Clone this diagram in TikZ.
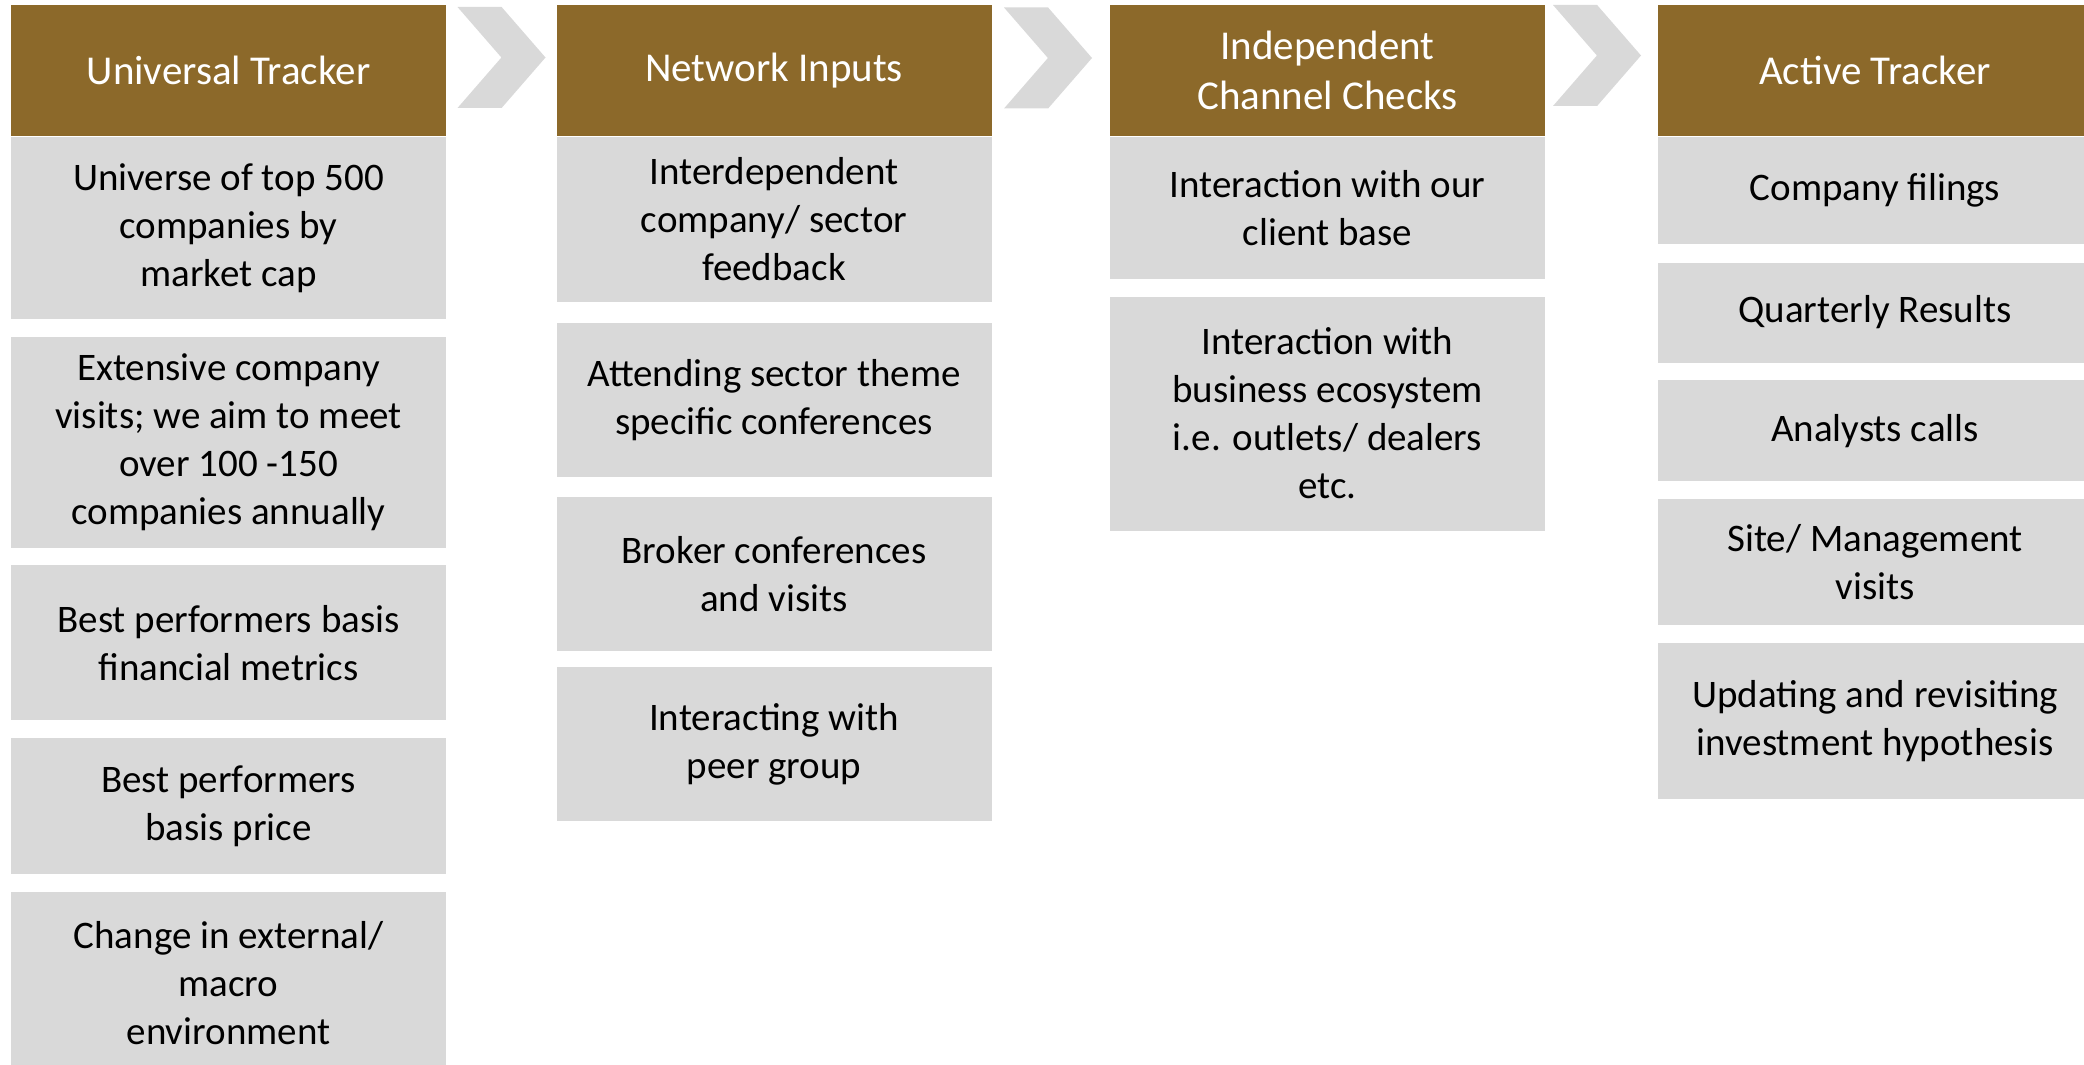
\documentclass[tikz,border=0pt]{standalone}
\usepackage{fontspec}
\setmainfont{Carlito}
\usetikzlibrary{positioning,shapes.symbols}
\definecolor{headbrown}{RGB}{140,105,42}
\definecolor{cellgrey}{RGB}{217,217,217}

\begin{document}
\begin{tikzpicture}[x=0.5pt,y=-0.5pt,node distance=8.5pt,
  head/.style={fill=headbrown,text=white,minimum width=217.5pt,minimum height=65.5pt,
    inner sep=0pt,align=center,font=\fontsize{20.5}{25}\selectfont},
  cell/.style={fill=cellgrey,minimum width=217.5pt,inner sep=0pt,align=center,
    font=\fontsize{19.5}{24}\selectfont},
  chevron/.style={signal,signal from=west,signal to=east,signal pointer angle=98,
    fill=cellgrey,minimum width=44pt,minimum height=50.5pt,inner sep=0pt}]

  \useasboundingbox (0,0) rectangle (2084,1065);
  \clip (0,0) rectangle (2084,1065);

  % headers
  \node[head] (h1) at (228.5,70.5) {Universal Tracker};
  \node[head] (h2) at (774,70.5) {Network Inputs};
  \node[head] (h3) at (1327.5,70.5) {Independent\\Channel Checks};
  \node[head] (h4) at (1875,70.5) {Active Tracker};

  \node[chevron] (c1) at (501.5,57.5) {};
  \node[chevron] (c2) at (1048,58) {};
  \node[chevron] (c3) at (1597,55.5) {};

  % universal tracker
  \node[cell,minimum height=91pt,below=0pt of h1] (u1) {Universe of top 500\\companies by\\market cap};
  \node[cell,minimum height=105.5pt,below=of u1] (u2) {Extensive company\\visits; we aim to meet\\over 100 -150\\companies annually};
  \node[cell,minimum height=77.5pt,below=of u2] (u3) {Best performers basis\\financial metrics};
  \node[cell,minimum height=68pt,below=of u3] (u4) {Best performers\\basis price};
  \node[cell,minimum height=91pt,below=of u4] (u5) {Change in external/\\macro\\environment};

  % network inputs
  \node[cell,minimum height=82.5pt,below=0pt of h2] (n1) {Interdependent\\company/ sector\\feedback};
  \node[cell,minimum height=77pt,below=10pt of n1] (n2) {Attending sector theme\\specific conferences};
  \node[cell,minimum height=77pt,below=10pt of n2] (n3) {Broker conferences\\and visits};
  \node[cell,minimum height=77pt,below=7.5pt of n3] (n4) {Interacting with\\peer group};

  % channel checks
  \node[cell,minimum height=71pt,below=0pt of h3] (i1) {Interaction with our\\client base};
  \node[cell,minimum height=117pt,below=of i1] (i2) {Interaction with\\business ecosystem\\i.e. outlets/ dealers\\etc.};

  % active tracker
  \node[cell,minimum height=53.5pt,below=0pt of h4] (a1) {Company filings};
  \node[cell,minimum height=50pt,below=9pt of a1] (a2) {Quarterly Results};
  \node[cell,minimum height=50.5pt,below=of a2] (a3) {Analysts calls};
  \node[cell,minimum height=63pt,below=of a3] (a4) {Site/ Management\\visits};
  \node[cell,minimum height=78pt,below=of a4] (a5) {Updating and revisiting\\investment hypothesis};
\end{tikzpicture}
\end{document}
